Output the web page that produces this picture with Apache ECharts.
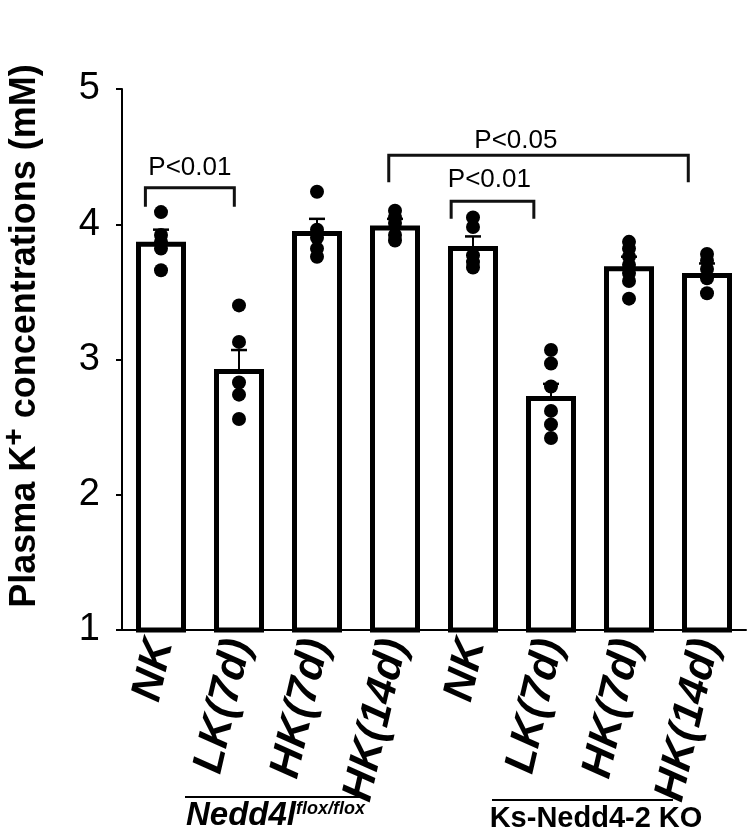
<!DOCTYPE html>
<html>
<head>
<meta charset="utf-8">
<script src="https://cdn.jsdelivr.net/npm/echarts@6/dist/echarts.min.js"></script>
<style>html,body{margin:0;padding:0;background:#fff}#c{width:750px;height:835px}</style>
</head>
<body>
<div id="c"></div>
<script>
// ---- data ----
const categories = ['NK', 'LK(7d)', 'HK(7d)', 'HK(14d)', 'NK', 'LK(7d)', 'HK(7d)', 'HK(14d)'];
const means = [3.87, 2.93, 3.95, 3.99, 3.84, 2.73, 3.69, 3.64];
const sems = [0.09, 0.14, 0.09, 0.05, 0.07, 0.09, 0.07, 0.07];
const dotsNK_f = [4.09, 3.92, 3.87, 3.82, 3.66];
const dotsLK_f = [3.40, 3.13, 2.83, 2.74, 2.56];
const dotsHK7_f = [4.24, 3.96, 3.90, 3.82, 3.76];
const dotsHK14_f = [4.10, 4.05, 4.01, 3.92, 3.88];
const dotsNK_ko = [4.05, 3.98, 3.77, 3.72, 3.68];
const dotsLK_ko = [3.07, 2.97, 2.80, 2.62, 2.52, 2.42];
const dotsHK7_ko = [3.87, 3.82, 3.76, 3.70, 3.64, 3.58, 3.45];
const dotsHK14_ko = [3.78, 3.73, 3.67, 3.60, 3.49];
const yTicks = [1, 2, 3, 4, 5];
// brackets: [xLeft, xRight, yTop, yDrop, label, labelX, labelY] in category-index / data units
const brackets = [
  [-0.2, 0.94, 4.27, 4.13, 'P<0.01', 0.37, 4.42],
  [2.92, 6.76, 4.51, 4.31, 'P<0.05', 4.55, 4.62],
  [3.72, 4.78, 4.17, 4.04, 'P<0.01', 4.21, 4.33]
];
const groupLabels = ['Nedd4l', 'Ks-Nedd4-2 KO'];

// ---- build ----
const FONT = '"Liberation Sans", Arial, sans-serif';
const allDots = [dotsNK_f, dotsLK_f, dotsHK7_f, dotsHK14_f, dotsNK_ko, dotsLK_ko, dotsHK7_ko, dotsHK14_ko];
const scatterData = [];
allDots.forEach((arr, i) => arr.forEach(v => scatterData.push([i, v])));
const errData = means.map((m, i) => [i, m, m + sems[i]]);

const chart = echarts.init(document.getElementById('c'), null, {renderer: 'canvas'});
chart.setOption({
  backgroundColor: '#fff',
  animation: false,
  grid: {left: 122, right: 4, top: 89, bottom: 205},
  xAxis: [{
    type: 'category', data: categories,
    axisLine: {lineStyle: {color: '#000', width: 2}},
    axisTick: {show: false},
    axisLabel: {rotate: 77, color: '#000', fontSize: 43, fontWeight: 'bold', fontStyle: 'italic', fontFamily: FONT, margin: 10}
  }, {
    type: 'value', min: -0.5, max: 7.5, show: false
  }],
  yAxis: {
    type: 'value', min: yTicks[0], max: yTicks[yTicks.length - 1], interval: 1,
    axisLine: {show: true, onZero: false, lineStyle: {color: '#000', width: 2}},
    axisTick: {show: true, length: 6, lineStyle: {color: '#000', width: 2}},
    splitLine: {show: false},
    axisLabel: {color: '#000', fontSize: 38, fontFamily: FONT, margin: 22}
  },
  series: [{
    type: 'bar', data: means, barWidth: 50, xAxisIndex: 0,
    itemStyle: {color: '#fff', borderColor: '#000', borderWidth: 5},
    z: 2
  }, {
    type: 'custom', xAxisIndex: 1, data: errData, z: 3,
    renderItem: function (params, api) {
      const p0 = api.coord([api.value(0), api.value(1)]);
      const p1 = api.coord([api.value(0), api.value(2)]);
      return {type: 'group', children: [
        {type: 'line', shape: {x1: p0[0], y1: p0[1], x2: p1[0], y2: p1[1]}, style: {stroke: '#000', lineWidth: 2}},
        {type: 'line', shape: {x1: p1[0] - 8, y1: p1[1], x2: p1[0] + 8, y2: p1[1]}, style: {stroke: '#000', lineWidth: 2.5}}
      ]};
    }
  }, {
    type: 'scatter', xAxisIndex: 1, data: scatterData, symbolSize: 14,
    itemStyle: {color: '#000', opacity: 1}, z: 4
  }, {
    type: 'custom', xAxisIndex: 1, data: brackets, z: 5,
    renderItem: function (params, api) {
      const b = brackets[params.dataIndex];
      const a = api.coord([b[0], b[3]]);
      const t1 = api.coord([b[0], b[2]]);
      const t2 = api.coord([b[1], b[2]]);
      const d = api.coord([b[1], b[3]]);
      const tp = api.coord([b[5], b[6]]);
      return {type: 'group', children: [
        {type: 'polyline', shape: {points: [a, t1, t2, d]}, style: {stroke: '#111', lineWidth: 3, fill: null}},
        {type: 'text', x: tp[0], y: tp[1], style: {text: b[4], fontSize: 26, fontFamily: FONT, fill: '#000', align: 'center', verticalAlign: 'middle'}}
      ]};
    }
  }],
  graphic: [{
    type: 'text', x: 25, y: 336, rotation: Math.PI / 2,
    style: {
      text: '{a|Plasma K}{s|+}{a| concentrations (mM)}',
      align: 'center', verticalAlign: 'middle',
      rich: {
        a: {fontSize: 36, fontWeight: 'bold', fontFamily: FONT, fill: '#000'},
        s: {fontSize: 30, fontWeight: 'bold', fontFamily: FONT, fill: '#000', padding: [0, 0, 20, 0]}
      }
    }
  }, {
    type: 'line', shape: {x1: 185, y1: 797, x2: 363, y2: 797}, style: {stroke: '#000', lineWidth: 2}
  }, {
    type: 'line', shape: {x1: 492, y1: 800, x2: 673, y2: 800}, style: {stroke: '#000', lineWidth: 2}
  }, {
    type: 'text', x: 186, y: 816,
    style: {
      text: '{a|' + groupLabels[0] + '}{s|flox/flox}',
      align: 'left', verticalAlign: 'middle',
      rich: {
        a: {fontSize: 33, fontWeight: 'bold', fontStyle: 'italic', fontFamily: FONT, fill: '#000'},
        s: {fontSize: 18, fontWeight: 'bold', fontStyle: 'italic', fontFamily: FONT, fill: '#000', padding: [0, 0, 14, 0]}
      }
    }
  }, {
    type: 'text', x: 596, y: 819,
    style: {text: groupLabels[1], align: 'center', verticalAlign: 'middle', fontSize: 29, fontWeight: 'bold', fontFamily: FONT, fill: '#000'}
  }]
});
</script>
</body>
</html>
